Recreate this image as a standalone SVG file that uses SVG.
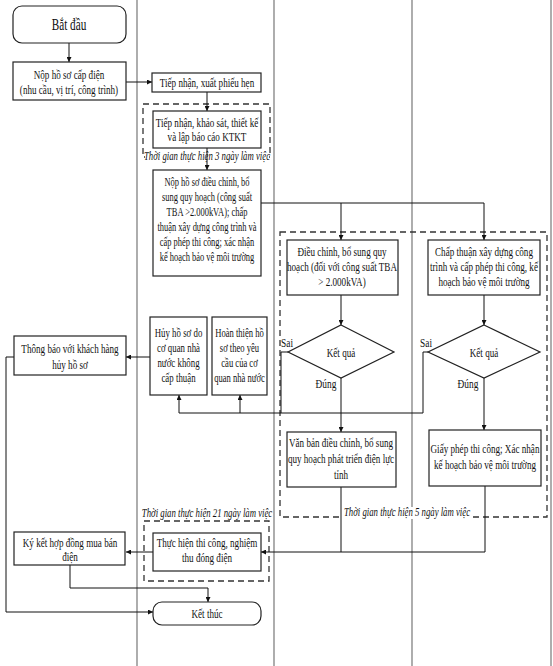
<svg xmlns="http://www.w3.org/2000/svg" width="553" height="666" viewBox="0 0 553 666">
<style>
.lane{stroke:#777;stroke-width:1.2;fill:none}
.box{fill:#fff;stroke:#222;stroke-width:1.2}
.dash{fill:none;stroke:#333;stroke-width:1.3;stroke-dasharray:6 4}
.c{fill:none;stroke:#111;stroke-width:1}
.t{font-family:"Liberation Serif","Times New Roman",serif;font-size:13px;fill:#111;text-anchor:middle}
.big{font-size:16px}
.it{font-family:"Liberation Serif","Times New Roman",serif;font-size:12.5px;font-style:italic;fill:#111;text-anchor:middle}
.lbl{font-family:"Liberation Serif","Times New Roman",serif;font-size:12.5px;fill:#111;text-anchor:middle}
</style>
<defs>
<marker id="ah" viewBox="0 0 10 10" refX="10" refY="5" markerWidth="6" markerHeight="5" markerUnits="userSpaceOnUse" orient="auto"><path d="M0,0 L10,5 L0,10 z" fill="#111"/></marker>
</defs>
<rect x="0" y="0" width="553" height="666" fill="#fff"/>
<g id="lanes">
<line class="lane" x1="137" y1="0" x2="137" y2="666"/>
<line class="lane" x1="274" y1="0" x2="274" y2="666"/>
<line class="lane" x1="412" y1="0" x2="412" y2="666"/>
<line class="lane" x1="551" y1="0" x2="551" y2="666"/>
</g>
<g id="dashed-groups">
<rect class="dash" x="143" y="104" width="127" height="53"/>
<rect class="dash" x="280" y="232" width="267" height="285"/>
<rect class="dash" x="144" y="521" width="125" height="60"/>
<rect x="145" y="150" width="124" height="12" fill="#fff"/>
<text class="it" transform="translate(207 0) scale(.7 1)" x="0" y="160">Thời gian thực hiện 3 ngày làm việc</text>
<rect x="343" y="507" width="128" height="12" fill="#fff"/>
<text class="it" transform="translate(407 0) scale(.7 1)" x="0" y="516">Thời gian thực hiện 5 ngày làm việc</text>
<text class="it" transform="translate(207 0) scale(.7 1)" x="0" y="517">Thời gian thực hiện 21 ngày làm việc</text>
</g>
<g id="connectors">
<path class="c" d="M69,43 V62" marker-end="url(#ah)"/>
<path class="c" d="M126,82 H152" marker-end="url(#ah)"/>
<path class="c" d="M207,92 V111" marker-end="url(#ah)"/>
<path class="c" d="M207,148 V170" marker-end="url(#ah)"/>
<path class="c" d="M261,203 H484"/>
<path class="c" d="M341,203 V240" marker-end="url(#ah)"/>
<path class="c" d="M484,203 V240" marker-end="url(#ah)"/>
<path class="c" d="M341,295 V325" marker-end="url(#ah)"/>
<path class="c" d="M484,295 V325" marker-end="url(#ah)"/>
<path class="c" d="M341,378 V432" marker-end="url(#ah)"/>
<path class="c" d="M484,378 V430" marker-end="url(#ah)"/>
<path class="c" d="M288,352 H281 V413"/>
<path class="c" d="M428,352 H423 V413 H179"/>
<path class="c" d="M179,413 V395" marker-end="url(#ah)"/>
<path class="c" d="M240,413 V395" marker-end="url(#ah)"/>
<path class="c" d="M150,357 H126" marker-end="url(#ah)"/>
<path class="c" d="M14,357 H6 V612 H153" marker-end="url(#ah)"/>
<path class="c" d="M341,487 V552"/>
<path class="c" d="M485,486 V552 H261" marker-end="url(#ah)"/>
<path class="c" d="M153,552 H126" marker-end="url(#ah)"/>
<path class="c" d="M70,565 V588 H208 V602" marker-end="url(#ah)"/>
</g>
<g id="start">
<rect class="box" x="13" y="6" width="113" height="37" rx="9"/>
<text class="t big" transform="translate(69 0) scale(.7 1)" x="0" y="30">Bắt đầu</text>
</g>
<g id="nop-ho-so">
<rect class="box" x="13" y="62" width="113" height="38"/>
<text class="t" transform="translate(69 0) scale(.7 1)"><tspan x="0" y="79">Nộp hồ sơ cấp điện</tspan><tspan x="0" y="94">(nhu cầu, vị trí, công trình)</tspan></text>
</g>
<g id="tiep-nhan">
<rect class="box" x="152" y="73" width="109" height="19"/>
<text class="t" transform="translate(207 0) scale(.7 1)" x="0" y="87">Tiếp nhận, xuất phiếu hẹn</text>
</g>
<g id="khao-sat">
<rect class="box" x="153" y="111" width="108" height="37"/>
<text class="t" transform="translate(207 0) scale(.7 1)"><tspan x="0" y="127">Tiếp nhận, khảo sát, thiết kế</tspan><tspan x="0" y="141">và lập báo cáo KTKT</tspan></text>
</g>
<g id="nop-dieu-chinh">
<rect class="box" x="153" y="170" width="108" height="106"/>
<text class="t" transform="translate(207 0) scale(.65 1)"><tspan x="0" y="186">Nộp hồ sơ điều chỉnh, bổ</tspan><tspan x="0" y="201">sung quy hoạch (công suất</tspan><tspan x="0" y="216">TBA &gt;2.000kVA); chấp</tspan><tspan x="0" y="231">thuận xây dựng công trình và</tspan><tspan x="0" y="246">cấp phép thi công; xác nhận</tspan><tspan x="0" y="261">kế hoạch bảo vệ môi trường</tspan></text>
</g>
<g id="dieu-chinh-quy-hoach">
<rect class="box" x="287" y="240" width="111" height="55"/>
<text class="t" transform="translate(342 0) scale(.7 1)"><tspan x="0" y="256">Điều chỉnh, bổ sung quy</tspan><tspan x="0" y="271">hoạch (đối với công suất TBA</tspan><tspan x="0" y="286">&gt; 2.000kVA)</tspan></text>
</g>
<g id="chap-thuan">
<rect class="box" x="428" y="240" width="112" height="55"/>
<text class="t" transform="translate(484 0) scale(.7 1)"><tspan x="0" y="256">Chấp thuận xây dựng công</tspan><tspan x="0" y="271">trình và cấp phép thi công, kế</tspan><tspan x="0" y="286">hoạch bảo vệ môi trường</tspan></text>
</g>
<g id="ket-qua-1">
<polygon class="box" points="341,325 394,352 341,378 288,352"/>
<text class="t" transform="translate(341 0) scale(.7 1)" x="0" y="357">Kết quả</text>
<text class="lbl" transform="translate(287 0) scale(.75 1)" x="0" y="347">Sai</text>
<text class="lbl" transform="translate(326 0) scale(.75 1)" x="0" y="388">Đúng</text>
</g>
<g id="ket-qua-2">
<polygon class="box" points="484,325 540,352 484,378 428,352"/>
<text class="t" transform="translate(484 0) scale(.7 1)" x="0" y="357">Kết quả</text>
<text class="lbl" transform="translate(426 0) scale(.75 1)" x="0" y="347">Sai</text>
<text class="lbl" transform="translate(468 0) scale(.75 1)" x="0" y="388">Đúng</text>
</g>
<g id="van-ban">
<rect class="box" x="287" y="432" width="109" height="55"/>
<text class="t" transform="translate(341 0) scale(.7 1)"><tspan x="0" y="447">Văn bản điều chỉnh, bổ sung</tspan><tspan x="0" y="463">quy hoạch phát triển điện lực</tspan><tspan x="0" y="479">tỉnh</tspan></text>
</g>
<g id="giay-phep">
<rect class="box" x="429" y="430" width="112" height="56"/>
<text class="t" transform="translate(485 0) scale(.7 1)"><tspan x="0" y="453">Giấy phép thi công; Xác nhận</tspan><tspan x="0" y="469">kế hoạch bảo vệ môi trường</tspan></text>
</g>
<g id="huy-ho-so">
<rect class="box" x="150" y="317" width="57" height="78"/>
<text class="t" transform="translate(178.5 0) scale(.68 1)"><tspan x="0" y="337">Hủy hồ sơ do</tspan><tspan x="0" y="352">cơ quan nhà</tspan><tspan x="0" y="367">nước không</tspan><tspan x="0" y="382">cấp thuận</tspan></text>
</g>
<g id="hoan-thien">
<rect class="box" x="212" y="317" width="55" height="78"/>
<text class="t" transform="translate(239.5 0) scale(.66 1)"><tspan x="0" y="337">Hoàn thiện hồ</tspan><tspan x="0" y="352">sơ theo yêu</tspan><tspan x="0" y="367">cầu của cơ</tspan><tspan x="0" y="382">quan nhà nước</tspan></text>
</g>
<g id="thong-bao">
<rect class="box" x="14" y="336" width="112" height="39"/>
<text class="t" transform="translate(70 0) scale(.7 1)"><tspan x="0" y="353">Thông báo với khách hàng</tspan><tspan x="0" y="369">hủy hồ sơ</tspan></text>
</g>
<g id="thi-cong">
<rect class="box" x="153" y="533" width="108" height="38"/>
<text class="t" transform="translate(207 0) scale(.7 1)"><tspan x="0" y="547">Thực hiện thi công, nghiệm</tspan><tspan x="0" y="562">thu đóng điện</tspan></text>
</g>
<g id="ky-ket">
<rect class="box" x="14" y="532" width="111" height="33"/>
<text class="t" transform="translate(70 0) scale(.7 1)"><tspan x="0" y="547">Ký kết hợp đồng mua bán</tspan><tspan x="0" y="561">điện</tspan></text>
</g>
<g id="end">
<rect class="box" x="153" y="602" width="108" height="23" rx="9"/>
<text class="t" transform="translate(207 0) scale(.7 1)" x="0" y="618">Kết thúc</text>
</g>
</svg>
